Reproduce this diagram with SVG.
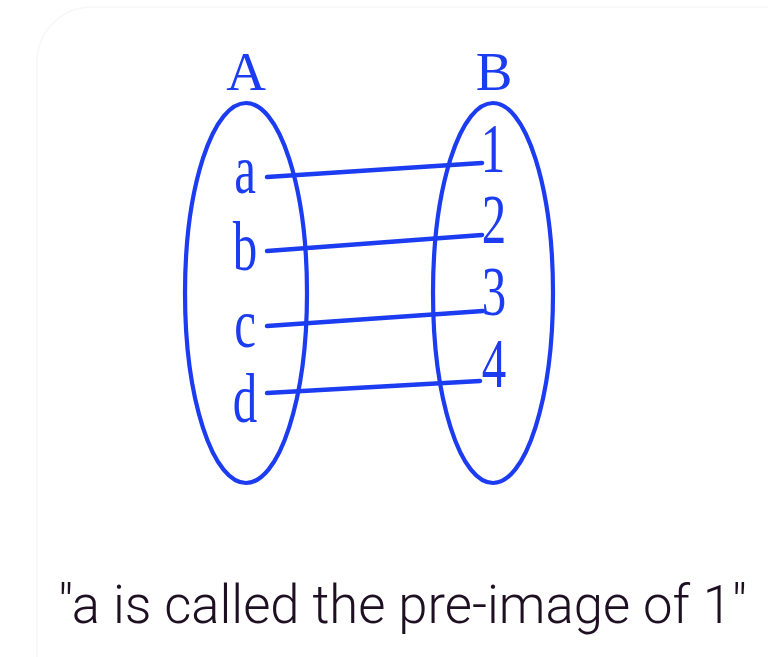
<svg xmlns="http://www.w3.org/2000/svg" width="768" height="657" viewBox="0 0 768 657">
<style>
.set{fill:none;stroke:#1c3cf2;stroke-width:4.2}
.con{stroke:#1c3cf2;stroke-width:4.5;stroke-linecap:round}
.lbl{font-family:"Liberation Serif","Times New Roman",serif;fill:#1c3cf2;text-anchor:middle}
.el{font-size:70px}
.hd{font-size:55px}
.cap{font-family:"Roboto","Liberation Sans",sans-serif;font-weight:300;font-size:54px;fill:#1e0f22}
</style>
<rect x="0" y="0" width="768" height="657" fill="#ffffff"/>
<path d="M37 657 V62 A55 55 0 0 1 92 7 H768" fill="none" stroke="#f7f7f7" stroke-width="1.5"/>
<g id="setA">
<ellipse class="set" cx="246" cy="293" rx="61" ry="190"/>
<text class="lbl hd" x="246" y="90">A</text>
</g>
<g id="setB">
<ellipse class="set" cx="493" cy="293" rx="60" ry="190"/>
<text class="lbl hd" x="494" y="90">B</text>
</g>
<g id="elemsA">
<g id="a"><text class="lbl el" transform="translate(245,193) scale(0.7,1)">a</text></g>
<g id="b"><text class="lbl el" transform="translate(245,270) scale(0.7,1)">b</text></g>
<g id="c"><text class="lbl el" transform="translate(245,347) scale(0.7,1)">c</text></g>
<g id="d"><text class="lbl el" transform="translate(245,422) scale(0.7,1)">d</text></g>
</g>
<g id="elemsB">
<g id="n1"><text class="lbl el" transform="translate(493,172) scale(0.7,1)">1</text></g>
<g id="n2"><text class="lbl el" transform="translate(494,243) scale(0.7,1)">2</text></g>
<g id="n3"><text class="lbl el" transform="translate(494,315) scale(0.7,1)">3</text></g>
<g id="n4"><text class="lbl el" transform="translate(494,387) scale(0.7,1)">4</text></g>
</g>
<g id="connectors">
<line class="con" x1="267" y1="177" x2="482" y2="163"/>
<line class="con" x1="267" y1="251" x2="482" y2="235"/>
<line class="con" x1="267" y1="326" x2="483" y2="311"/>
<line class="con" x1="267" y1="393" x2="480" y2="381"/>
</g>
<g id="caption">
<text class="cap" x="58" y="623" textLength="689" lengthAdjust="spacingAndGlyphs">"a is called the pre-image of 1"</text>
</g>
</svg>
